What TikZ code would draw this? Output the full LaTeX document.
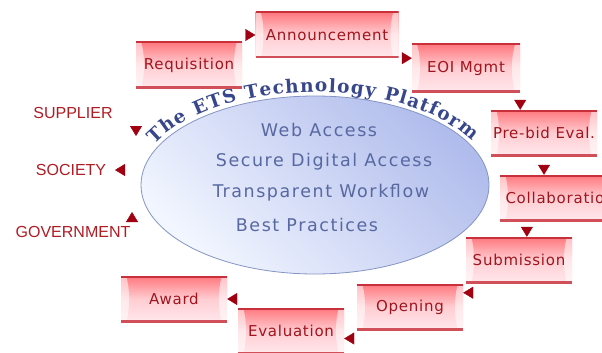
\documentclass[tikz,border=0pt]{standalone}
\usepackage{fontspec}
\usetikzlibrary{arrows.meta,shapes.geometric,decorations.text,decorations.markings}
\newfontfamily\boxfont[LetterSpace=5]{DejaVu Sans}
\newfontfamily\platfont[LetterSpace=9]{DejaVu Sans}
\newfontfamily\arcfont{DejaVu Serif}
\newfontfamily\sidefont{Liberation Sans}
\definecolor{boxtop}{HTML}{FF777D}
\definecolor{boxmid}{HTML}{FFCDD2}
\definecolor{boxbot}{HTML}{FFE8EC}
\definecolor{boxedge}{HTML}{C8303C}
\definecolor{boxtext}{HTML}{A0141E}
\definecolor{tipred}{HTML}{A00010}
\definecolor{sidered}{HTML}{B01C24}
\definecolor{ellpale}{HTML}{F2F6FF}
\definecolor{elldeep}{HTML}{B0BCEC}
\definecolor{ellline}{HTML}{8494C4}
\definecolor{elltext}{HTML}{5868A0}
\definecolor{arctext}{HTML}{38468C}
\tikzset{
  scroll/.style={minimum width=106pt, minimum height=46pt, inner sep=0pt,
    top color=boxtop, bottom color=boxbot, middle color=boxmid, text=boxtext,
    font=\boxfont\fontsize{15}{18}\selectfont,
    path picture={
      \fill[white,opacity=.55] (path picture bounding box.west) ellipse [x radius=8pt, y radius=30pt];
      \fill[white,opacity=.55] (path picture bounding box.east) ellipse [x radius=8pt, y radius=30pt];
      \draw[boxedge,line width=3pt] (path picture bounding box.north west) -- (path picture bounding box.north east);
      \draw[boxedge!85!white,line width=4pt] (path picture bounding box.south west) -- (path picture bounding box.south east);
    }},
  platform/.style={ellipse, minimum width=348pt, minimum height=178pt, draw=ellline, line width=0.8pt,
    top color=elldeep, bottom color=ellpale, shading angle=-45},
  plattext/.style={text=elltext, font=\platfont\fontsize{17.5}{20}\selectfont, inner sep=0pt},
  side/.style={text=sidered, font=\sidefont\fontsize{16}{19}\selectfont, inner sep=0pt},
  tri/.style={tipred, decoration={markings, mark=at position 1 with {\arrow{Triangle[length=10pt,width=12pt]}}},
    postaction={decorate}}
}
\begin{document}
\begin{tikzpicture}[x=1pt,y=-1pt]
\useasboundingbox (0,0) rectangle (602,353);
\clip (0,0) rectangle (602,353);

\node[platform] (plat) at (315,185) {};
\path[decorate, decoration={text along path, text align={fit to path}, text color=arctext,
  text={|\arcfont\bfseries\fontsize{18.5}{21}\selectfont|The ETS Technology Platform}}]
  (315,185) ++(206:178 and 93) arc[start angle=206, end angle=332, x radius=178, y radius=93];
\node[plattext] (web) at (319,130) {Web Access};
\node[plattext] (sec) at (324,162) {Secure Digital Access};
\node[plattext] (tra) at (321,193) {Transparent Workflow};
\node[plattext] (bes) at (307,225) {Best Practices};

\node[scroll] (req) at (189,65) {Requisition};
\node[scroll, minimum width=143pt] (ann) at (327,35) {Announcement};
\node[scroll, minimum width=108pt, minimum height=48pt] (eoi) at (466,68) {EOI Mgmt};
\node[scroll] (pre) at (544,133) {Pre-bid Eval.};
\node[scroll, minimum width=120pt] (col) at (560,198) {Collaboration};
\node[scroll] (sub) at (519,260) {Submission};
\node[scroll] (opn) at (410,307) {Opening};
\node[scroll] (eva) at (291,331) {Evaluation};
\node[scroll] (awd) at (174,299) {Award};

\node[side] (sup) at (73,113) {SUPPLIER};
\node[side] (soc) at (71,170) {SOCIETY};
\node[side] (gov) at (73,232) {GOVERNMENT};
\coordinate (supTip) at (136,136);
\coordinate (socTip) at (115,170);
\coordinate (govTip) at (132,212);

\path[tri] (req) |- (ann.west);
\path[tri] (ann.south east) -- (ann.south east -| eoi.west);
\path[tri] (eoi.south east) -- (eoi.south east |- pre.north);
\path[tri] (pre) -- (pre |- col.north);
\path[tri] (col.-145) -- (col.-145 |- sub.north);
\path[tri] (sub.south) |- (opn.15);
\path[tri] (opn.south) |- (eva.-8);
\path[tri] (eva.north) |- (awd.east);
\path[tri] (sup.east) -| (supTip);
\path[tri] (plat.west |- soc) -- (socTip);
\path[tri] (gov.east) -| (govTip);
\end{tikzpicture}
\end{document}
